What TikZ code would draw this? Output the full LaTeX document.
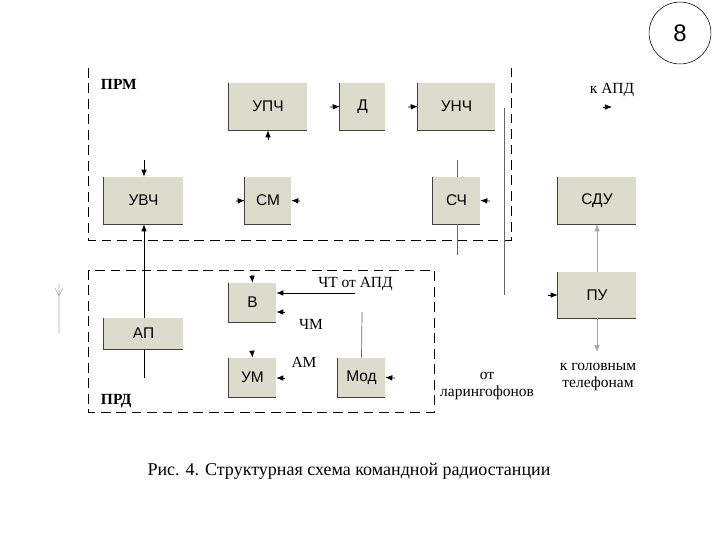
\documentclass[tikz,border=0pt]{standalone}
\usepackage{fontspec}
\setmainfont{Liberation Serif}
\newfontfamily\sansf{Liberation Sans}
\usetikzlibrary{arrows.meta}
\definecolor{boxfill}{HTML}{DCDCCD}
\begin{document}
\begin{tikzpicture}[x=0.025cm,y=-0.025cm,
  blk/.style={fill=boxfill,inner sep=0,font=\sansf\fontsize{11}{13}\selectfont},
  ar/.style={-{Latex[length=5pt,width=4pt]},line width=0.5pt},
  ln/.style={line width=0.5pt,gray!80!black},
  dsh/.style={dash pattern=on 7pt off 4pt,line width=0.6pt},
  lbl/.style={font=\fontsize{11}{12}\selectfont,inner sep=0,align=center}]
\useasboundingbox (0,0) rectangle (720,540);
% boxes
\foreach \n/\a/\b/\c/\d/\t in {upch/229/83/307/130/УПЧ, d/340/83/385/130/Д, unch/418/83/495/130/УНЧ,
  uvch/104/177/183/224/УВЧ, sm/245/177/291/224/СМ, sch/433/177/480/224/СЧ, sdu/558/177/636/224/СДУ,
  v/229/283/276/322/В, ap/104/318/183/349/АП, um/229/358/276/397/УМ, mod/338/358/385/397/Мод, pu/558/272/636/318/ПУ}{
  \node[blk,minimum width={(\c-\a)*0.025cm},minimum height={(\d-\b)*0.025cm}] (\n) at ({(\a+\c)/2},{(\b+\d)/2}) {\t};
  \draw[line width=0.8pt,black!75] (\n.north west)--(\n.south west)--(\n.south east);
}
% dashed frames
\draw[dsh] (88,68)--(88,240)--(511,240)--(511,68);
\draw[dsh] (88,270) rectangle (434,412);
\node[font=\bfseries\fontsize{11}{12}\selectfont,anchor=west] (prm) at (96,84) {ПРМ};
\node[font=\bfseries\fontsize{11}{12}\selectfont,anchor=west] (prd) at (96,401) {ПРД};
% receiver arrows
\coordinate (uvchin) at (144,160);
\draw[ar] (uvchin)--(uvch.north-|uvchin);
\coordinate (apb) at (144,378);
\draw[line width=0.6pt] (apb)--(ap.south-|apb);
\draw[ar] (ap.north-|apb)--(uvch.south-|apb);
\draw[ar] (268,140)--(upch.south-|268,0);
\draw[ar] (330,107)--(d.west);
\draw[ar] (408,107)--(unch.west);
\draw[ar] (236,201)--(sm.west);
\draw[ar] (300,201)--(sm.east);
\draw[ar] (490,201)--(sch.east);
\coordinate (schT) at (457,160); \coordinate (schB) at (457,255);
\draw[ln] (schT)--(sch.north-|schT); \draw[ln] (sch.south-|schB)--(schB);
\coordinate (vt) at (504,108); \coordinate (vb) at (504,295);
\draw[ln] (vt)--(vb);
\node[lbl] (kapd) at (612,90) {к АПД};
\draw[ar] (603,107)--(612,107);
% right column
\draw[ar,gray!70] (pu.north)--(sdu.south);
\draw[ar] (548,295)--(pu.west);
\coordinate (pud) at (597,352);
\draw[ar,gray!70] (pu.south)--(pud);
\node[lbl] (tel) at (598,377) {к головным\\телефонам};
% transmitter
\draw[ar] (252,275)--(v.north);
\node[lbl,anchor=west] (cht) at (318,284) {ЧТ от АПД};
\draw[ar] (355,293)--(v.east|-0,293);
\draw[ar] (285,312)--(v.east|-0,312);
\node[lbl] (chm) at (311,324) {ЧМ};
\node[lbl] (am) at (304,362) {АМ};
\draw[ar] (252,351)--(um.north);
\draw[ar] (285,378)--(um.east|-0,378);
\coordinate (modt) at (362,312);
\draw[ln] (modt)--(mod.north);
\draw[ar] (395,378)--(mod.east);
\node[lbl] (lar) at (487,386) {от\\ларингофонов};
% antenna
\coordinate (ant1) at (59,284); \coordinate (ant2) at (59,333);
\draw[gray!70,line width=0.4pt] (ant2)--(ant1) (55,288)--(59,296)--(63,288);
% caption and page number
\node[font=\fontsize{12.8}{14}\selectfont] (cap) at (349,471) {Рис. 4. Структурная схема командной радиостанции};
\node[draw,circle,minimum size=44,inner sep=0,font=\sansf\fontsize{17}{18}\selectfont] (pg) at (680,33) {8};
\end{tikzpicture}
\end{document}
